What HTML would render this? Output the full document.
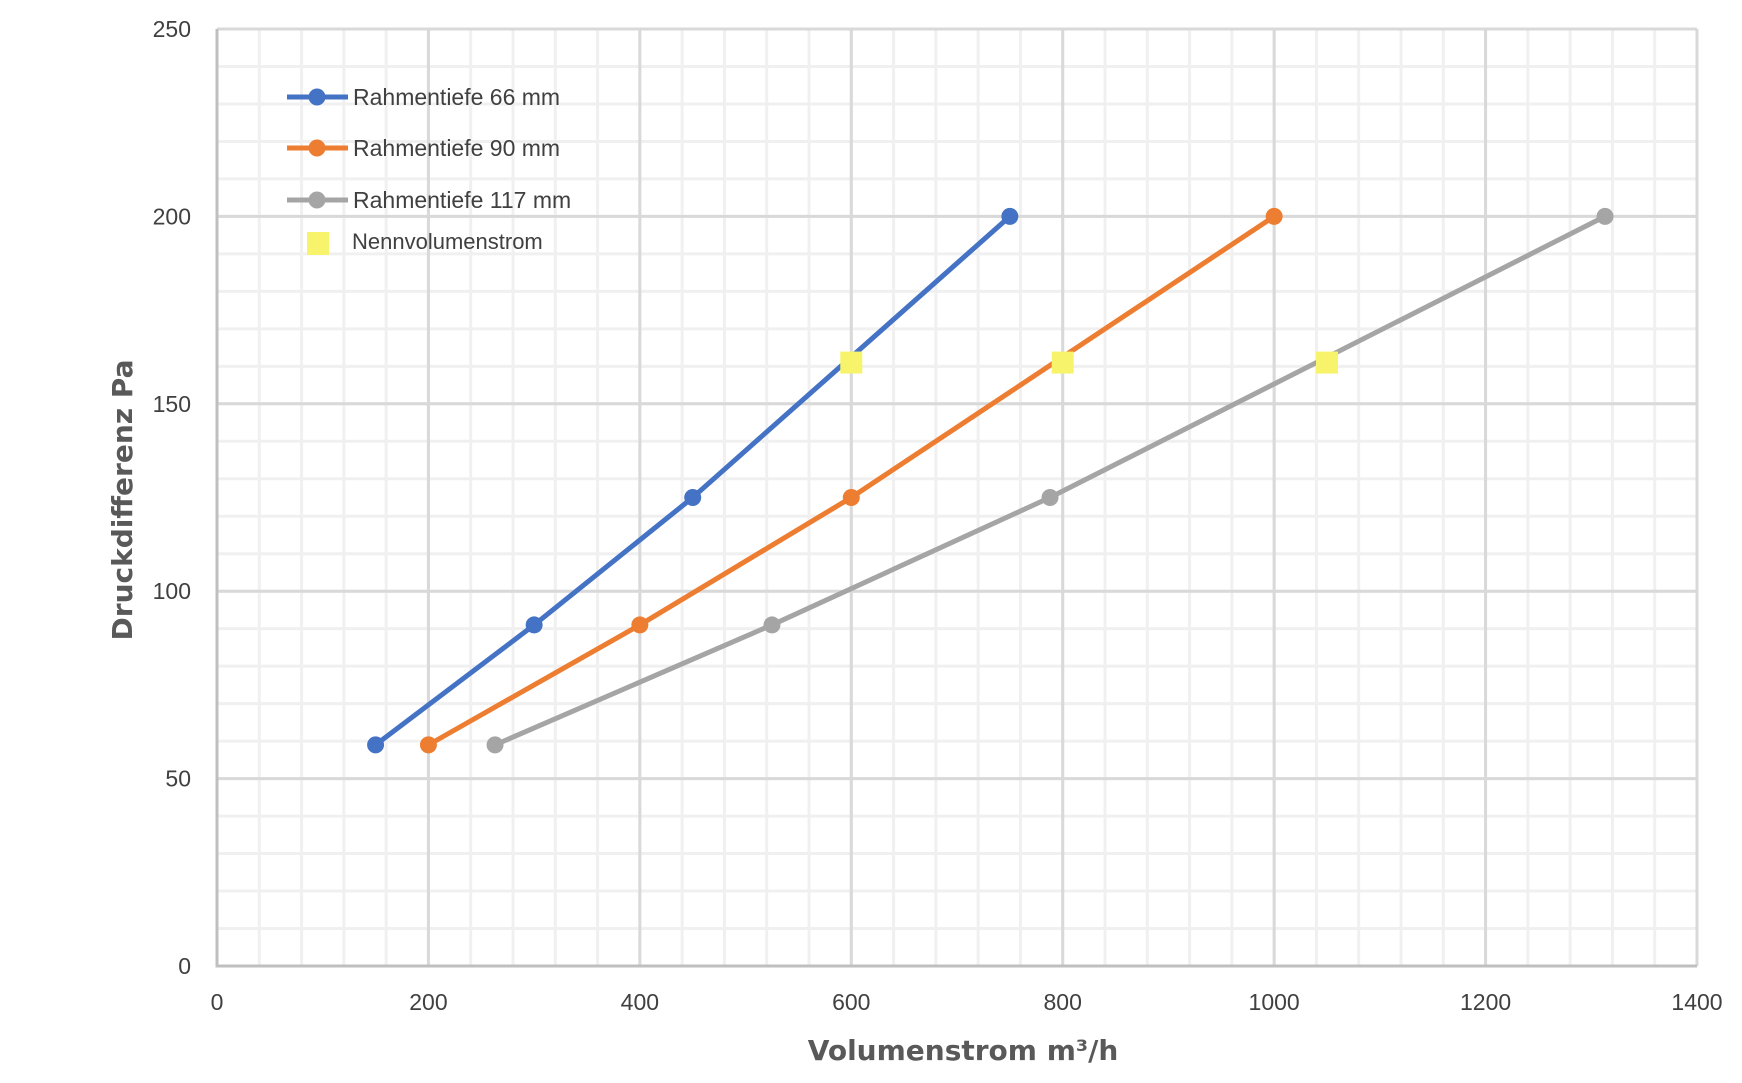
<!DOCTYPE html>
<html><head><meta charset="utf-8"><style>
body{margin:0;background:#fff;}
svg{display:block;font-family:"Liberation Sans",sans-serif;}
</style></head><body>
<svg id="chart" width="1742" height="1083" viewBox="0 0 1742 1083">
<g id="grid"></g>
<g id="axes"></g>
<g id="series"></g>
<g id="legend"></g>
<text x="132" y="500" transform="rotate(-90 132 500)" text-anchor="middle" font-size="28" font-weight="bold" fill="#595959" style="font-family:'DejaVu Sans',sans-serif">Druckdifferenz Pa</text>
<text x="963" y="1060" text-anchor="middle" font-size="28" font-weight="bold" fill="#595959" style="font-family:'DejaVu Sans',sans-serif">Volumenstrom m³/h</text>
</svg>
<script>
const xTicks=[0,200,400,600,800,1000,1200,1400];
const yTicks=[0,50,100,150,200,250];
const names=["Rahmentiefe 66 mm","Rahmentiefe 90 mm","Rahmentiefe 117 mm"];
const colors=["#4472C4","#ED7D31","#A5A5A5"];
const yVals=[59,91,125,200];
const x66=[150,300,450,750];
const x90=[200,400,600,1000];
const x117=[263,525,788,1313];
const nennX=[600,800,1050];
const nennY=[161,161,161];

const X0=217,X1=1697,Y0=966,Y1=29;
const sx=v=>X0+(v-0)/1400*(X1-X0);
const sy=v=>Y0-(v-0)/250*(Y0-Y1);
const NS="http://www.w3.org/2000/svg";
function mk(tag,attrs,parent){const e=document.createElementNS(NS,tag);for(const k in attrs)e.setAttribute(k,attrs[k]);parent.appendChild(e);return e;}
const grid=document.getElementById('grid'),axes=document.getElementById('axes'),series=document.getElementById('series'),legend=document.getElementById('legend');

for(let v=0;v<=1400;v+=40){const e=mk('line',{x1:sx(v),x2:sx(v),y1:Y1,y2:Y0,stroke:'#f0f0f0','stroke-width':3},grid);

}
for(let v=0;v<=250;v+=10){const e=mk('line',{x1:X0,x2:X1,y1:sy(v),y2:sy(v),stroke:'#f0f0f0','stroke-width':3},grid);

}
xTicks.forEach(v=>{const e=mk('line',{x1:sx(v),x2:sx(v),y1:Y1,y2:Y0,stroke:'#d9d9d9','stroke-width':3},grid);


const t=mk('text',{x:sx(v),y:1010,'text-anchor':'middle','font-size':23,fill:'#404040'},axes);t.textContent=v;

});
yTicks.forEach(v=>{const e=mk('line',{x1:X0,x2:X1,y1:sy(v),y2:sy(v),stroke:'#d9d9d9','stroke-width':3},grid);


const t=mk('text',{x:191,y:sy(v)+8,'text-anchor':'end','font-size':23,fill:'#404040'},axes);t.textContent=v;

});
const ax=mk('path',{d:`M${X0} ${Y1}V${Y0}H${X1}`,fill:'none',stroke:'#bfbfbf','stroke-width':3},axes);



[x66,x90,x117].forEach((xs,i)=>{
 const pts=xs.map((x,j)=>sx(x)+','+sy(yVals[j])).join(' ');
 const l=mk('polyline',{points:pts,fill:'none',stroke:colors[i],'stroke-width':5},series);
 
 
 xs.forEach((x,j)=>{const c=mk('circle',{cx:sx(x),cy:sy(yVals[j]),r:8.5,fill:colors[i]},series);
 
 });
});
nennX.forEach((x,j)=>{const r=mk('rect',{x:sx(x)-11,y:sy(nennY[j])-11,width:22,height:22,fill:'#F7F46C'},series);

});

const ly=[97,148,200];
names.forEach((n,i)=>{
 const l=mk('line',{x1:287,x2:348,y1:ly[i],y2:ly[i],stroke:colors[i],'stroke-width':5},legend);
 
 
 const c=mk('circle',{cx:317,cy:ly[i],r:8.5,fill:colors[i]},legend);
 
 
 const t=mk('text',{x:353,y:ly[i]+8,'font-size':23,fill:'#404040'},legend);t.textContent=n;
 
 
});
const sq=mk('rect',{x:307,y:232,width:22,height:23,fill:'#F7F46C'},legend);


const nt=mk('text',{x:352,y:249,'font-size':22,fill:'#404040'},legend);nt.textContent='Nennvolumenstrom';


</script>
</body></html>
